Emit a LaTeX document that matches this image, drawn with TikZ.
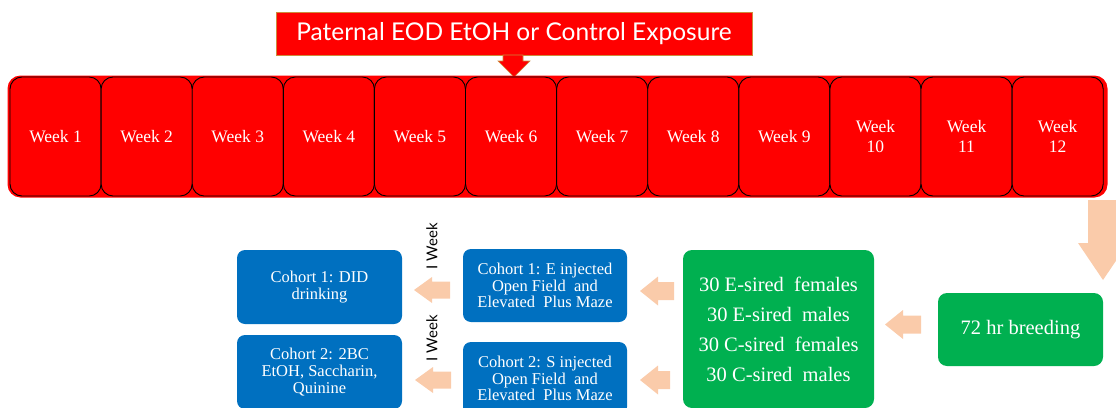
\documentclass[tikz,border=0pt]{standalone}
\usepackage{fontspec}
\setmainfont{Liberation Serif}
\newfontfamily\gill{Lato}
\definecolor{wred}{RGB}{255,0,0}
\definecolor{peach}{RGB}{250,203,170}
\definecolor{ggreen}{RGB}{0,176,80}
\definecolor{bblue}{RGB}{0,112,192}
\definecolor{gold}{RGB}{205,140,60}
\newcommand\blockL[5]{%
  \fill[peach] (#1,#2) -- ({#1+18},{#2-#4}) -- ({#1+18},{#2-#5}) -- ({#1+#3},{#2-#5})
    -- ({#1+#3},{#2+#5}) -- ({#1+18},{#2+#5}) -- ({#1+18},{#2+#4}) -- cycle;}
\begin{document}
\begin{tikzpicture}[x=1pt,y=-1pt,
  week/.style={draw=black, line width=0.9pt, fill=wred, rounded corners=12pt,
    minimum width=91.1pt, minimum height=119pt, inner sep=0pt, text=white,
    font=\fontsize{17.5}{20}\selectfont, align=center},
  banner/.style={draw=gold, line width=0.8pt, fill=wred, text=white, inner sep=0pt,
    minimum width=476pt, minimum height=43pt, font=\gill\fontsize{24.5}{26}\selectfont},
  gbox/.style={fill=ggreen, rounded corners=9pt, text=white, inner sep=0pt, align=center},
  bbox/.style={fill=bblue, rounded corners=8pt, text=white, inner sep=0pt, align=center,
    minimum width=164pt, minimum height=73pt, font=\fontsize{16.5}{16.7}\selectfont},
  wk/.style={rotate=90, font=\gill\fontsize{15}{16}\selectfont, text=black, inner sep=0pt}]
\useasboundingbox (0,0) rectangle (1116,407);
\clip (0,0) rectangle (1116,407);
% banner
\node[banner] (banner) at (514,33.5) {Paternal EOD EtOH or Control Exposure};
\fill[wred, draw=gold, line width=0.6pt] (503,55) -- (523,55) -- (523,61) -- (530,61) -- (514,77) -- (498,61) -- (503,61) -- cycle;
% week bar
\node[fill=wred, rounded corners=13pt, minimum width=1100pt, minimum height=122pt, inner sep=0pt] (bar) at (557.5,136.5) {};
\foreach \k in {1,...,9} {
  \node[week] (w\k) at ({10+91.1*(\k-0.5)},136.5) {Week \k};
}
\foreach \k in {10,11,12} {
  \node[week] (w\k) at ({10+91.1*(\k-0.5)},136.5) {Week\\\k};
}
% big down arrow
\fill[peach] (1088,200) -- (1118,200) -- (1118,243) -- (1128,243) -- (1103,280) -- (1078,243) -- (1088,243) -- cycle;
% boxes
\node[gbox, minimum width=165pt, minimum height=73pt, font=\fontsize{20.5}{22}\selectfont] (breed) at (1020.5,329.5) {72 hr breeding};
\node[gbox, minimum width=191pt, minimum height=158pt, font=\fontsize{20.5}{30}\selectfont] (groups) at (778.5,329) {30 E-sired\ \ females\\30 E-sired\ \ males\\30 C-sired\ \ females\\30 C-sired\ \ males};
\node[bbox] (c1mid) at (545,285.5) {Cohort 1: E injected\\Open Field\ \ and\\Elevated\ \ Plus Maze};
\node[bbox] (c2mid) at (545,378.5) {Cohort 2: S injected\\Open Field\ \ and\\Elevated\ \ Plus Maze};
\node[bbox, minimum width=165pt, minimum height=74pt] (c1left) at (319.5,287) {Cohort 1: DID\\drinking};
\node[bbox, minimum width=165pt, minimum height=74pt] (c2left) at (319.5,372) {Cohort 2: 2BC\\EtOH, Saccharin,\\Quinine};
% I Week labels
\node[wk] (wk1) at (432,246) {I Week};
\node[wk] (wk2) at (432,338) {I Week};
% peach arrows
\blockL{885}{324.5}{36}{14.5}{9}
\blockL{640}{291}{34}{14.5}{9}
\blockL{640}{380}{30}{14.5}{9}
\blockL{414}{290}{36}{13}{8.5}
\blockL{415}{380}{36}{13}{8.5}
\end{tikzpicture}
\end{document}
